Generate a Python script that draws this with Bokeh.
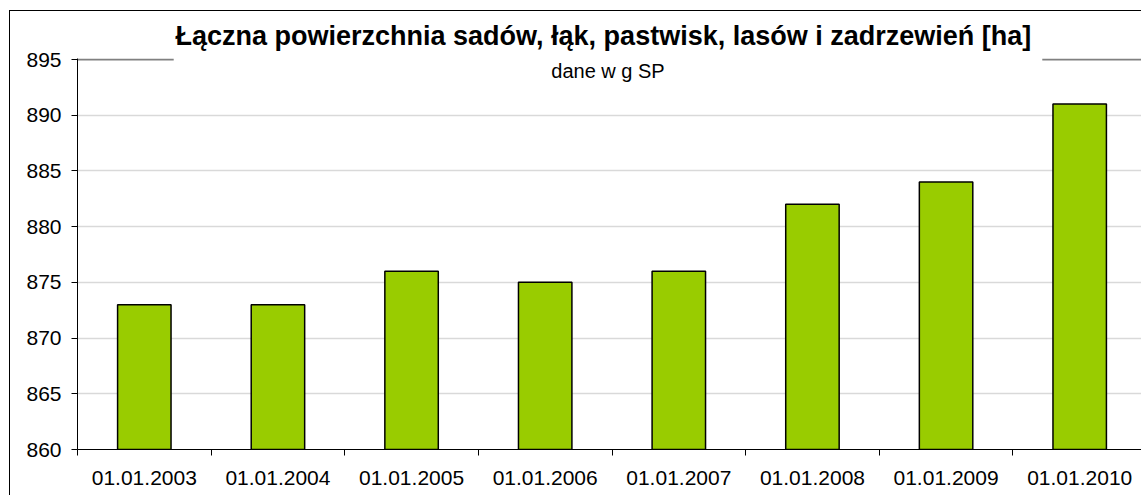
from bokeh.plotting import figure
from bokeh.models import Range1d, FixedTicker, ColumnDataSource
from bokeh.embed import file_html
from bokeh.resources import INLINE

title_text = "Łączna powierzchnia sadów, łąk, pastwisk, lasów i zadrzewień [ha]"
subtitle_text = "dane w g SP"
dates = ["01.01.2003", "01.01.2004", "01.01.2005", "01.01.2006",
         "01.01.2007", "01.01.2008", "01.01.2009", "01.01.2010"]
values = [873, 873, 876, 875, 876, 882, 884, 891]
y_ticks = [860, 865, 870, 875, 880, 885, 890, 895]

FONT = "Liberation Sans"

idx = list(range(len(dates)))
src = ColumnDataSource(dict(x=idx, top=values, label=dates))

p = figure(width=1132, height=485, output_backend="svg", toolbar_location=None,
           x_range=Range1d(-0.5, len(dates) - 0.53),
           y_range=Range1d(y_ticks[0], y_ticks[-1] + 0.09),
           min_border_left=67, min_border_right=0, min_border_top=47, min_border_bottom=47)
p.margin = (10, 0, 0, 9)
p.styles = {"border-left": "1px solid black", "border-top": "1px solid black"}
p.outline_line_color = None
p.background_fill_color = "white"
p.border_fill_color = "white"

# title
p.title.text = title_text
p.title.align = "left"
p.title.offset = 98
p.title.text_font = FONT
p.title.text_font_style = "bold"
p.title.text_font_size = "27px"
p.title.text_color = "black"
p.title.standoff = 15

p.vbar(x="x", top="top", bottom=y_ticks[0], width=0.4, source=src,
       fill_color="#99CC00", line_color="black", line_width=1.5)

# y axis
p.yaxis.ticker = FixedTicker(ticks=y_ticks, minor_ticks=[])
p.yaxis.major_tick_out = 6
p.yaxis.major_tick_in = 0
p.yaxis.axis_line_color = "black"
p.yaxis.major_tick_line_color = "black"
p.yaxis.major_label_text_font = FONT
p.yaxis.major_label_text_font_size = "21px"
p.yaxis.major_label_text_color = "black"
p.yaxis.major_label_standoff = 10
p.ygrid.ticker = FixedTicker(ticks=y_ticks[:-1])
p.ygrid.grid_line_color = "#d9d9d9"
p.ygrid.grid_line_width = 1.5

# x axis
p.xaxis.ticker = FixedTicker(ticks=idx, minor_ticks=[i - 0.5 for i in range(len(dates) + 1)])
p.xaxis.major_label_overrides = {i: d for i, d in zip(idx, dates)}
p.xaxis.major_tick_line_color = None
p.xaxis.minor_tick_line_color = "black"
p.xaxis.minor_tick_out = 6
p.xaxis.minor_tick_in = 0
p.xaxis.axis_line_color = "black"
p.xaxis.major_label_text_font = FONT
p.xaxis.major_label_text_font_size = "21px"
p.xaxis.major_label_text_color = "black"
p.xaxis.major_label_standoff = 15
p.xgrid.grid_line_color = None

# top border of plot area, interrupted where the title box sits
gap = (0.22, 6.72)
p.segment(x0=[-0.5, gap[1]], x1=[gap[0], len(dates)], y0=[y_ticks[-1]] * 2, y1=[y_ticks[-1]] * 2,
          line_color="#808080", line_width=2)

# subtitle inside the plot area
p.text(x=[3.47], y=[894.0], text=[subtitle_text], text_align="center", text_baseline="middle",
       text_font={"value": FONT}, text_font_size="20px", text_color="black")

open("out.html", "w").write(file_html(p, INLINE))
